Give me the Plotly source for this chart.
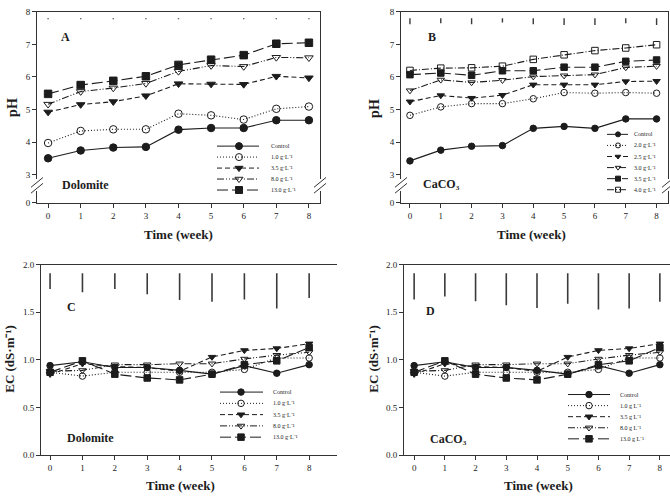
import plotly.graph_objects as go

W, H = 670, 499

# ---------------- data ----------------
weeks = [0, 1, 2, 3, 4, 5, 6, 7, 8]
week_ticks = [0, 1, 2, 3, 4, 5, 6, 7, 8]
ph_ticks = [3, 4, 5, 6, 7, 8]
ec_ticks = [0.0, 0.5, 1.0, 1.5, 2.0]
ec_ticktext = ["0.0", "0.5", "1.0", "1.5", "2.0"]

# Panel A: Dolomite pH
dol_ph_control = [3.50, 3.74, 3.83, 3.85, 4.38, 4.43, 4.43, 4.67, 4.67]
dol_ph_1_0 = [3.97, 4.34, 4.39, 4.39, 4.87, 4.82, 4.69, 5.02, 5.09]
dol_ph_3_5 = [4.92, 5.15, 5.24, 5.42, 5.79, 5.78, 5.77, 6.02, 5.97]
dol_ph_8_0 = [5.16, 5.55, 5.66, 5.80, 6.17, 6.35, 6.32, 6.60, 6.59]
dol_ph_13_0 = [5.48, 5.75, 5.88, 6.02, 6.37, 6.53, 6.67, 7.02, 7.05]
dol_ph_lsd = [0.03, 0.03, 0.03, 0.03, 0.03, 0.03, 0.03, 0.03, 0.03]

# Panel B: CaCO3 pH
caco3_ph_control = [3.42, 3.75, 3.87, 3.89, 4.42, 4.48, 4.42, 4.71, 4.71]
caco3_ph_2_0 = [4.82, 5.08, 5.18, 5.18, 5.33, 5.52, 5.50, 5.52, 5.50]
caco3_ph_2_5 = [5.24, 5.43, 5.35, 5.44, 5.76, 5.76, 5.76, 5.86, 5.87]
caco3_ph_3_0 = [5.58, 5.91, 5.83, 5.90, 6.01, 6.04, 6.07, 6.29, 6.33]
caco3_ph_3_5 = [6.07, 6.12, 6.05, 6.19, 6.19, 6.30, 6.30, 6.48, 6.52]
caco3_ph_4_0 = [6.20, 6.27, 6.28, 6.33, 6.54, 6.68, 6.81, 6.89, 6.99]
caco3_ph_lsd = [0.18, 0.15, 0.18, 0.13, 0.18, 0.20, 0.20, 0.15, 0.20]
ph_lsd_top = 7.8

# Panels C and D: EC
ec_control = [0.94, 0.98, 0.92, 0.92, 0.89, 0.85, 0.94, 0.86, 0.95]
ec_1_0 = [0.87, 0.83, 0.87, 0.87, 0.87, 0.87, 0.90, 1.02, 1.02]
ec_3_5 = [0.85, 0.96, 0.93, 0.92, 0.88, 1.03, 1.10, 1.12, 1.17]
ec_8_0 = [0.88, 0.89, 0.95, 0.95, 0.96, 0.96, 1.01, 1.05, 1.08]
ec_13_0 = [0.87, 0.99, 0.85, 0.81, 0.79, 0.85, 0.95, 0.99, 1.13]
dol_ec_lsd = [0.165, 0.20, 0.165, 0.22, 0.28, 0.30, 0.275, 0.37, 0.26]
caco3_ec_lsd = [0.275, 0.245, 0.295, 0.335, 0.365, 0.32, 0.38, 0.37, 0.30]
ec_lsd_top = 1.91

dol_labels = ["Control", "1.0 g·L⁻¹", "3.5 g·L⁻¹", "8.0 g·L⁻¹", "13.0 g·L⁻¹"]
caco3_labels = ["Control", "2.0 g·L⁻¹", "2.5 g·L⁻¹", "3.0 g·L⁻¹", "3.5 g·L⁻¹", "4.0 g·L⁻¹"]
d_labels = ["Control", "1.0 g L⁻¹", "3.5 g L⁻¹", "8.0 g L⁻¹", "13.0 g L⁻¹"]

# ---------------- styles ----------------
INK = "#1c1c1c"
FONT = "Liberation Serif"
SOLID = "solid"
DOT = "1px,2px"
DASH = "5px,3px"
DASHDOTDOT = "7px,2px,1px,2px,1px,2px"
DASHDOT = "7px,2px,1px,2px"
LONGDASH = "11px,4px"

dol_styles = [("circle", SOLID), ("circle-open", DOT), ("triangle-down", DASH),
              ("triangle-down-open", DASHDOTDOT), ("square", LONGDASH)]
caco3_styles = [("circle", SOLID), ("circle-open", DOT), ("triangle-down", DASH),
                ("triangle-down-open", DASHDOT), ("square", LONGDASH),
                ("square-open", DASHDOT)]


def fx(px):
    return px / W


def fy(py):
    return 1 - py / H


fig = go.Figure()


def add_series(series, styles, labels, xa, ya, msize):
    for vals, (sym, dash), lab in zip(series, styles, labels):
        fig.add_trace(go.Scatter(
            x=weeks, y=vals, mode="lines+markers", name=lab, showlegend=False,
            xaxis=xa, yaxis=ya,
            line=dict(color=INK, width=1.1, dash=dash),
            marker=dict(symbol=sym, size=msize, color=INK,
                        line=dict(color=INK, width=1))))


def add_lsd(lsd, top, xa, ya, thick):
    fig.add_trace(go.Scatter(
        x=weeks, y=[top] * len(weeks), mode="markers", showlegend=False,
        xaxis=xa, yaxis=ya, hoverinfo="skip",
        marker=dict(size=1, color="rgba(0,0,0,0)"),
        error_y=dict(type="data", symmetric=False, array=[0] * len(lsd),
                     arrayminus=lsd, width=0, thickness=thick, color="#3a3a3a")))


def add_legend(styles, labels, x0, x1, xm, xt, ytop, dy, msize):
    for i, ((sym, dash), lab) in enumerate(zip(styles, labels)):
        yy = ytop + i * dy
        fig.add_trace(go.Scatter(
            x=[x0, x1], y=[yy, yy], mode="lines", showlegend=False, hoverinfo="skip",
            xaxis="x7", yaxis="y7", line=dict(color=INK, width=1, dash=dash)))
        fig.add_trace(go.Scatter(
            x=[xm], y=[yy], mode="markers", showlegend=False, hoverinfo="skip",
            xaxis="x7", yaxis="y7",
            marker=dict(symbol=sym, size=msize, color=INK,
                        line=dict(color=INK, width=1))))
        fig.add_annotation(x=xt, y=yy, xref="x7", yref="y7", text=lab,
                           showarrow=False, xanchor="left", yanchor="middle",
                           font=dict(family=FONT, size=6, color=INK))


# Panel A
add_series([dol_ph_control, dol_ph_1_0, dol_ph_3_5, dol_ph_8_0, dol_ph_13_0],
           dol_styles, dol_labels, "x", "y", 7.5)
add_lsd(dol_ph_lsd, ph_lsd_top, "x", "y", 1.4)
fig.add_trace(go.Scatter(x=[], y=[], xaxis="x2", yaxis="y2", showlegend=False))
# Panel B
add_series([caco3_ph_control, caco3_ph_2_0, caco3_ph_2_5, caco3_ph_3_0,
            caco3_ph_3_5, caco3_ph_4_0],
           caco3_styles, caco3_labels, "x3", "y3", 6.5)
add_lsd(caco3_ph_lsd, ph_lsd_top, "x3", "y3", 1.4)
fig.add_trace(go.Scatter(x=[], y=[], xaxis="x4", yaxis="y4", showlegend=False))
# Panel C
add_series([ec_control, ec_1_0, ec_3_5, ec_8_0, ec_13_0],
           dol_styles, dol_labels, "x5", "y5", 6.5)
add_lsd(dol_ec_lsd, ec_lsd_top, "x5", "y5", 1.6)
# Panel D
add_series([ec_control, ec_1_0, ec_3_5, ec_8_0, ec_13_0],
           dol_styles, d_labels, "x6", "y6", 6.5)
add_lsd(caco3_ec_lsd, ec_lsd_top, "x6", "y6", 1.6)

# custom legends (pixel overlay)
add_legend(dol_styles, dol_labels, 217, 259, 239, 269, 144, 11.2, 7)
add_legend(caco3_styles, caco3_labels, 607, 628, 618, 632, 132, 11.3, 5)
add_legend(dol_styles, dol_labels, 220, 263, 241, 271, 395, 11.5, 6.5)
add_legend(dol_styles, d_labels, 568, 610, 589, 618, 397.5, 11.3, 6.5)

tickfont = dict(family=FONT, size=9, color=INK)
axline = dict(showline=True, linecolor="#333", linewidth=1, zeroline=False,
              showgrid=False, tickfont=tickfont, ticklen=4, tickwidth=1,
              tickcolor="#333")

layout_axes = {}
# Panel A
xA = [-0.34, 8.34]
layout_axes["xaxis"] = dict(domain=[fx(37), fx(320)], range=xA, anchor="y", side="top",
                            ticks="", showticklabels=False, **axline)
layout_axes["yaxis"] = dict(domain=[fy(178), fy(7)], range=[2.85, 8], anchor="x",
                            tickvals=ph_ticks, ticks="outside", mirror=True, **axline)
layout_axes["xaxis2"] = dict(domain=[fx(37), fx(320)], range=xA, anchor="y2",
                             tickvals=week_ticks, ticks="outside", **axline)
layout_axes["yaxis2"] = dict(domain=[fy(202), fy(190)], range=[0, 0.36], anchor="x2",
                             tickvals=[0], ticks="outside", mirror=True, **axline)
# Panel B
xB = [-0.29, 8.37]
layout_axes["xaxis3"] = dict(domain=[fx(401), fx(668)], range=xB, anchor="y3", side="top",
                             ticks="", showticklabels=False, **axline)
layout_axes["yaxis3"] = dict(domain=[fy(178), fy(7)], range=[2.85, 8], anchor="x3",
                             tickvals=ph_ticks, ticks="outside", mirror=True, **axline)
layout_axes["xaxis4"] = dict(domain=[fx(401), fx(668)], range=xB, anchor="y4",
                             tickvals=week_ticks, ticks="outside", **axline)
layout_axes["yaxis4"] = dict(domain=[fy(202), fy(190)], range=[0, 0.36], anchor="x4",
                             tickvals=[0], ticks="outside", mirror=True, **axline)
# Panel C
layout_axes["xaxis5"] = dict(domain=[fx(41), fx(337)], range=[-0.28, 8.86], anchor="y5",
                             tickvals=week_ticks, ticks="outside", mirror=True, **axline)
layout_axes["yaxis5"] = dict(domain=[fy(459.3), fy(265)], range=[0, 2], anchor="x5",
                             tickvals=ec_ticks, ticktext=ec_ticktext, ticks="outside",
                             **axline)
# Panel D
layout_axes["xaxis6"] = dict(domain=[fx(404), 1.0], range=[-0.33, 8.33], anchor="y6",
                             tickvals=week_ticks, ticks="outside", mirror=True, **axline)
layout_axes["yaxis6"] = dict(domain=[fy(459.3), fy(265)], range=[0, 2], anchor="x6",
                             tickvals=ec_ticks, ticktext=ec_ticktext, ticks="outside",
                             **axline)
# overlay pixel axes for legends
layout_axes["xaxis7"] = dict(domain=[0, 1], range=[0, W], anchor="y7", visible=False,
                             fixedrange=True)
layout_axes["yaxis7"] = dict(domain=[0, 1], range=[H, 0], anchor="x7", visible=False,
                             fixedrange=True)

fig.update_layout(
    width=W, height=H, margin=dict(l=0, r=0, t=0, b=0),
    paper_bgcolor="white", plot_bgcolor="rgba(0,0,0,0)",
    showlegend=False, font=dict(family=FONT, color=INK),
    **layout_axes)

# axis break marks
def slash(cx, cy):
    fig.add_shape(type="line", xref="paper", yref="paper",
                  x0=fx(cx - 6), y0=fy(cy + 5), x1=fx(cx + 6), y1=fy(cy - 5),
                  line=dict(color="#333", width=1))

for cx in (37, 320, 401, 668):
    slash(cx, 181)
    slash(cx, 187)

# text annotations
def txt(x, y, s, size, bold=True, angle=0):
    fig.add_annotation(x=fx(x), y=fy(y), xref="paper", yref="paper",
                       text=("<b>%s</b>" % s) if bold else s, showarrow=False,
                       textangle=angle, xanchor="center", yanchor="middle",
                       font=dict(family=FONT, size=size, color=INK))

txt(13, 105, "pH", 14, angle=-90)
txt(375, 105, "pH", 14, angle=-90)
txt(10, 361, "EC (dS·m⁻¹)", 13, angle=-90)
txt(374, 361, "EC (dS·m⁻¹)", 13, angle=-90)
txt(178, 234, "Time (week)", 13)
txt(531, 234, "Time (week)", 13)
txt(180, 490, "Time (week)", 13)
txt(538, 490, "Time (week)", 13)
txt(65, 33, "A", 12)
txt(85, 184, "Dolomite", 12)
txt(432, 33, "B", 12)
txt(441, 183, "CaCO₃", 12)
txt(71, 308, "C", 12)
txt(91, 442, "Dolomite", 12)
txt(430, 312, "D", 12)
txt(448, 443, "CaCO₃", 12)

fig.write_html("out.html")
